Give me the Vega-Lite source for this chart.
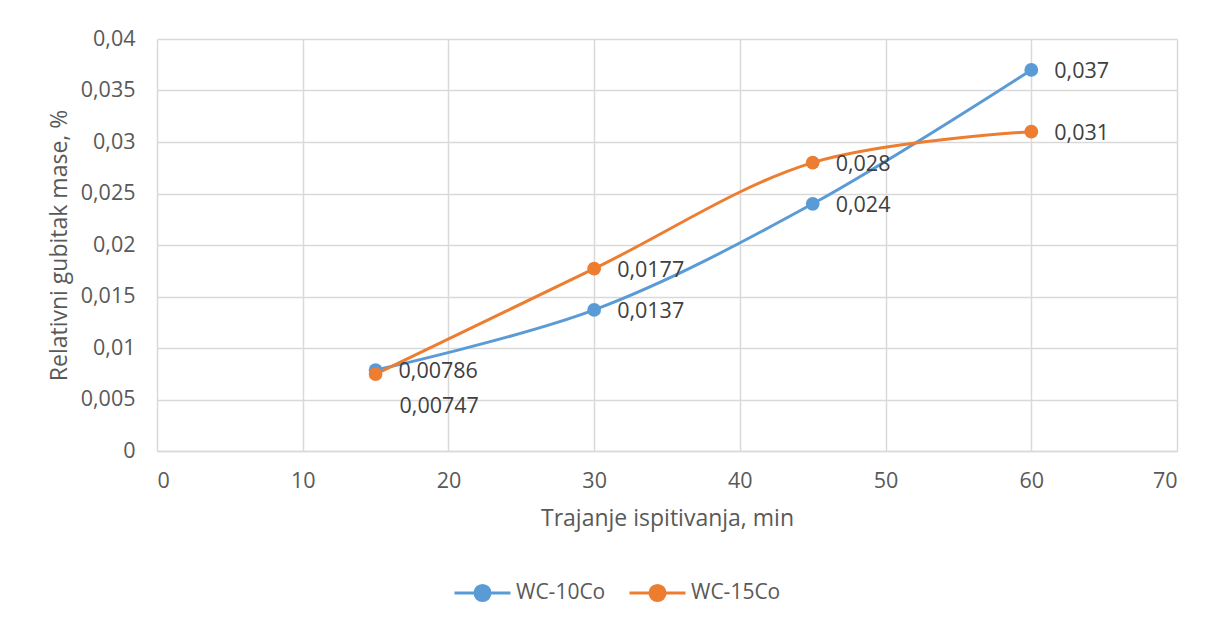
{
  "$schema": "https://vega.github.io/schema/vega-lite/v6.json",
  "autosize": {"type": "none"},
  "width": 1020,
  "height": 412,
  "padding": {"left": 157, "top": 39, "right": 36, "bottom": 172},
  "background": "white",
  "data": {"values": [
    {"t": 15, "v": 0.00786, "s": "WC-10Co"},
    {"t": 30, "v": 0.0137, "s": "WC-10Co"},
    {"t": 45, "v": 0.024, "s": "WC-10Co"},
    {"t": 60, "v": 0.037, "s": "WC-10Co"},
    {"t": 15, "v": 0.00747, "s": "WC-15Co"},
    {"t": 30, "v": 0.0177, "s": "WC-15Co"},
    {"t": 45, "v": 0.028, "s": "WC-15Co"},
    {"t": 60, "v": 0.031, "s": "WC-15Co"}
  ]},
  "encoding": {
    "x": {"field": "t", "type": "quantitative", "scale": {"domain": [0, 70], "nice": false},
      "axis": {"values": [0, 10, 20, 30, 40, 50, 60, 70], "title": "Trajanje ispitivanja, min", "labelPadding": 19, "titlePadding": 16}},
    "y": {"field": "v", "type": "quantitative", "scale": {"domain": [0, 0.04], "nice": false},
      "axis": {"values": [0, 0.005, 0.01, 0.015, 0.02, 0.025, 0.03, 0.035, 0.04], "format": ".3~f", "title": "Relativni gubitak mase, %", "labelPadding": 22, "titlePadding": 9}},
    "color": {"field": "s", "type": "nominal", "title": null,
      "scale": {"domain": ["WC-10Co", "WC-15Co"], "range": ["#5b9bd5", "#ed7d31"]},
      "legend": {
        "orient": "none", "direction": "horizontal", "legendX": 296, "legendY": 524,
        "symbolType": "M-1,0L1,0M-0.27,0A0.27,0.27 0 1,1 0.27,0A0.27,0.27 0 1,1 -0.27,0Z",
        "symbolSize": 3136, "symbolStrokeWidth": 3, "columnPadding": 17, "labelFontSize": 21, "labelColor": "#595959", "labelFont": "Open Sans", "labelOffset": 4,
        "padding": 0,
        "encode": {"symbols": {"update": {"fill": {"scale": "color", "field": "value"}, "stroke": {"scale": "color", "field": "value"}, "opacity": {"value": 1}}}}
      }}
  },
  "layer": [
    {"mark": {"type": "line", "interpolate": "catmull-rom", "strokeWidth": 3}, "encoding": {"detail": {"field": "s"}}},
    {"mark": {"type": "point", "filled": true, "size": 190, "opacity": 1}},
    {"transform": [{"filter": "datum.v != 0.00747"}],
      "mark": {"type": "text", "align": "left", "baseline": "middle", "dx": 23, "dy": 2, "font": "Open Sans", "fontSize": 21.5},
      "encoding": {"text": {"field": "v", "type": "quantitative", "format": "~g"}, "color": {"value": "#404040"}}},
    {"transform": [{"filter": "datum.v == 0.00747"}],
      "mark": {"type": "text", "align": "left", "baseline": "middle", "dx": 24, "dy": 33, "font": "Open Sans", "fontSize": 21.5},
      "encoding": {"text": {"field": "v", "type": "quantitative", "format": "~g"}, "color": {"value": "#404040"}}}
  ],
  "config": {
    "locale": {"number": {"decimal": ",", "thousands": ".", "grouping": [3], "currency": ["", " €"]}},
    "view": {"stroke": null},
    "font": "Open Sans",
    "axis": {
      "gridColor": "#d9d9d9", "gridWidth": 1.5, "domainColor": "#d9d9d9", "domainWidth": 1.5, "ticks": false,
      "labelFont": "Open Sans", "labelFontSize": 21.5, "labelColor": "#595959",
      "titleFont": "Open Sans", "titleFontSize": 23, "titleFontWeight": "normal", "titleColor": "#595959"
    },
    "axisY": {"domain": false}
  }
}
